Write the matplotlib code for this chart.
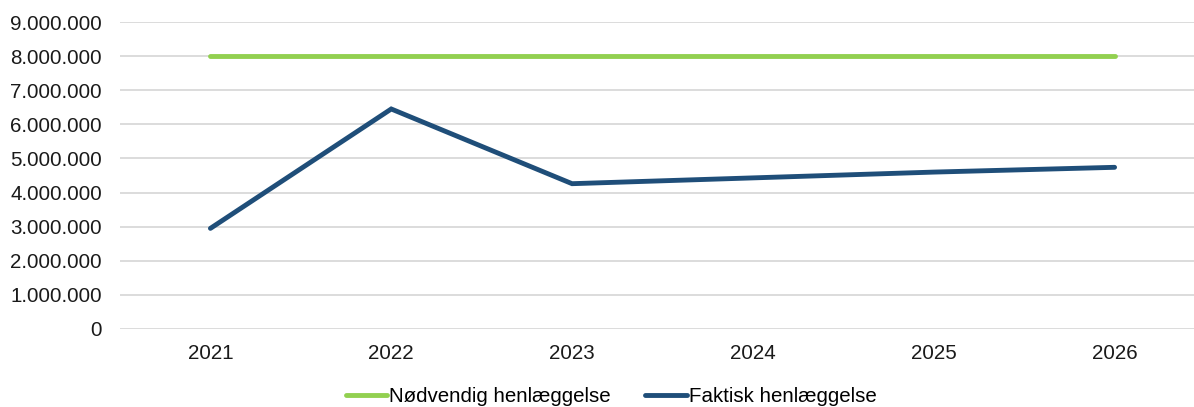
import matplotlib
matplotlib.use('Agg')
import matplotlib.pyplot as plt
from matplotlib.ticker import FuncFormatter

plt.rcParams.update({'font.family': ['Liberation Sans', 'DejaVu Sans'], 'font.size': 14.8})

years = ['2021', '2022', '2023', '2024', '2025', '2026']
noedvendig = [8000000, 8000000, 8000000, 8000000, 8000000, 8000000]
faktisk = [2950000, 6450000, 4260000, 4430000, 4600000, 4740000]

fig = plt.figure(figsize=(11.94, 4.07), dpi=100)
ax = fig.add_axes([120/1194, 78/407, 1085/1194, 307/407])
x = range(len(years))
ax.plot(x, noedvendig, color='#92D050', lw=3.5, solid_capstyle='round', label='Nødvendig henlæggelse', zorder=3)
ax.plot(x, faktisk, color='#1F4E79', lw=3.5, solid_capstyle='round', solid_joinstyle='miter', label='Faktisk henlæggelse', zorder=3)

ax.set_xlim(-0.5, 5.5)
ax.set_ylim(0, 9000000)
ax.set_yticks(range(0, 9000001, 1000000))
ax.yaxis.set_major_formatter(FuncFormatter(lambda v, p: f'{int(v):,}'.replace(',', '.')))
ax.set_xticks(list(x))
ax.set_xticklabels(years)
ax.tick_params(axis='both', length=0, colors='#1a1a1a')
ax.tick_params(axis='y', pad=13)
ax.tick_params(axis='x', pad=11)
ax.grid(axis='y', color='#D9D9D9', lw=1.3)
ax.set_axisbelow(True)
for s in ax.spines.values():
    s.set_visible(False)

fig.legend(loc='center', bbox_to_anchor=(611/1194, 1 - 397/407), ncol=2, frameon=False,
           handlelength=2.0, handletextpad=0.1, columnspacing=1.7, fontsize=14.8)
fig.savefig('out.png', dpi=100)
